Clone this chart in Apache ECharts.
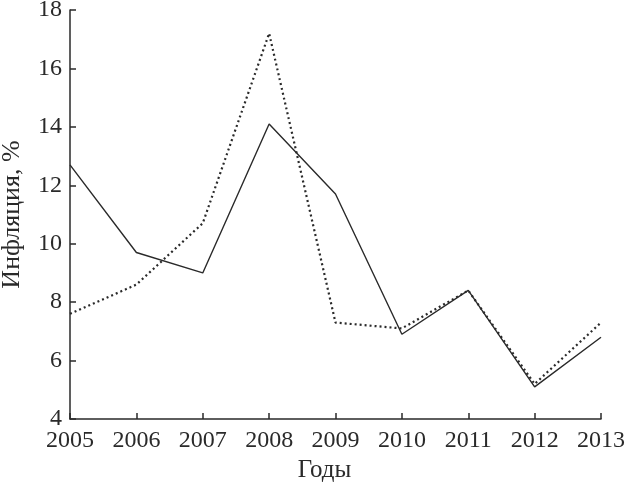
<!DOCTYPE html>
<html>
<head>
<meta charset="utf-8">
<script src="https://cdn.jsdelivr.net/npm/echarts@6/dist/echarts.min.js"></script>
<style>html,body{margin:0;padding:0;background:#fff}#c{width:626px;height:490px}</style>
</head>
<body>
<div id="c"></div>
<script>
const years = [2005, 2006, 2007, 2008, 2009, 2010, 2011, 2012, 2013];
const solidValues = [12.7, 9.7, 9.0, 14.1, 11.7, 6.9, 8.4, 5.1, 6.8];
const dottedValues = [7.6, 8.6, 10.7, 17.2, 7.3, 7.1, 8.4, 5.2, 7.3];
const yTicks = [4, 6, 8, 10, 12, 14, 16, 18];

const font = '"Liberation Serif", "DejaVu Serif", serif';
const ink = '#2a2a2a';
const chart = echarts.init(document.getElementById('c'));
chart.setOption({
  animation: false,
  backgroundColor: '#fff',
  grid: { left: 70, right: 25, top: 10, bottom: 71, containLabel: false, outerBoundsMode: 'none' },
  xAxis: {
    type: 'value', min: 2005, max: 2013, interval: 1,
    name: 'Годы', nameLocation: 'middle', nameGap: 39,
    nameTextStyle: { fontFamily: font, fontSize: 25, color: ink, padding: [0, 22, 0, 0] },
    axisLine: { show: true, lineStyle: { color: ink, width: 1.5 } },
    axisTick: { show: true, inside: true, length: 6, lineStyle: { color: ink, width: 1.5 } },
    axisLabel: { fontFamily: font, fontSize: 24, color: ink, margin: 10, formatter: v => String(v) },
    splitLine: { show: false }
  },
  yAxis: {
    type: 'value', min: yTicks[0], max: yTicks[yTicks.length - 1], interval: 2,
    name: 'Инфляция, %', nameLocation: 'middle', nameGap: 45,
    nameTextStyle: { fontFamily: font, fontSize: 26, color: ink },
    axisLine: { show: true, lineStyle: { color: ink, width: 1.5 } },
    axisTick: { show: true, inside: true, length: 6, lineStyle: { color: ink, width: 1.5 } },
    axisLabel: { fontFamily: font, fontSize: 24, color: ink, margin: 8 },
    splitLine: { show: false }
  },
  series: [
    {
      type: 'line', data: years.map((y, i) => [y, solidValues[i]]),
      symbol: 'none', lineStyle: { color: ink, width: 1.4, type: 'solid' }
    },
    {
      type: 'line', data: years.map((y, i) => [y, dottedValues[i]]),
      symbol: 'none', lineStyle: { color: ink, width: 2.2, type: [2, 3] }
    }
  ]
});
</script>
</body>
</html>
